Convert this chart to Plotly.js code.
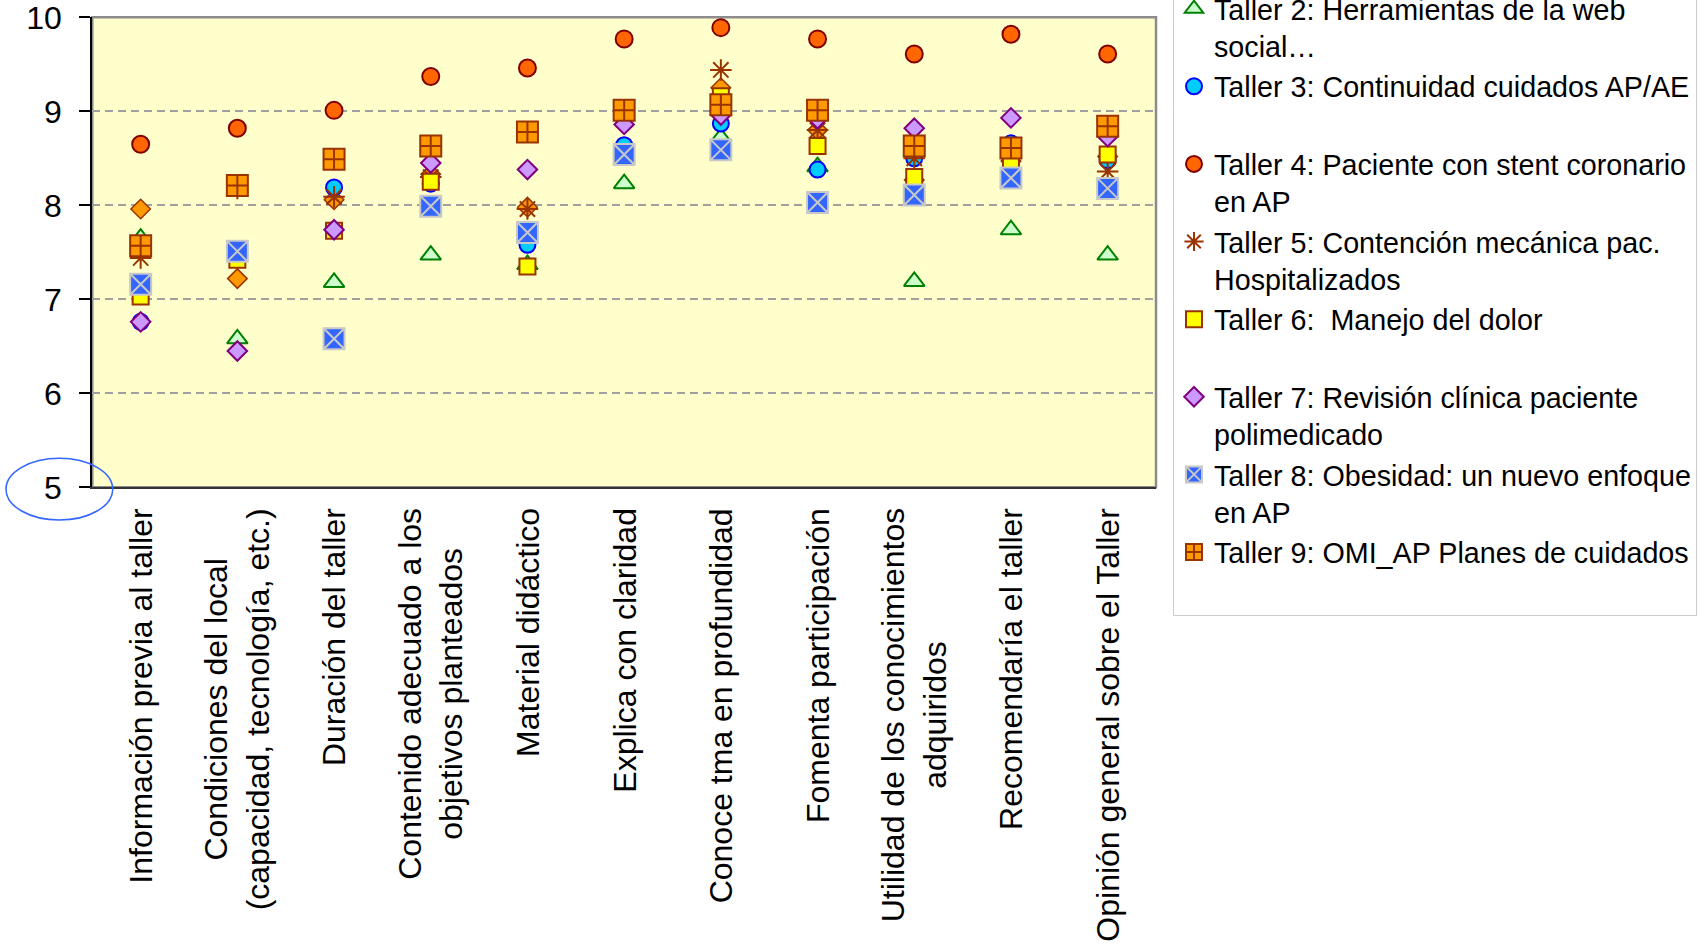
<!DOCTYPE html>
<html>
<head>
<meta charset="utf-8">
<script src="https://cdn.plot.ly/plotly-3.0.1.min.js"></script>
<style>
  html, body { margin: 0; padding: 0; background: #ffffff; }
  #chart { width: 1706px; height: 951px; }
</style>
</head>
<body>
<div id="chart"></div>
<script>
// ---- Data ----
const categories = [
  "Información previa al taller",
  "Condiciones del local (capacidad, tecnología, etc.)",
  "Duración del taller",
  "Contenido adecuado a los objetivos planteados",
  "Material didáctico",
  "Explica con claridad",
  "Conoce tma en profundidad",
  "Fomenta participación",
  "Utilidad de los conocimientos adquiridos",
  "Recomendaría el taller",
  "Opinión general sobre el Taller"
];
const tickLabels = [
  "Información previa al taller",
  "Condiciones del local<br>(capacidad, tecnología, etc.)",
  "Duración del taller",
  "Contenido adecuado a los<br>objetivos planteados",
  "Material didáctico",
  "Explica con claridad",
  "Conoce tma en profundidad",
  "Fomenta participación",
  "Utilidad de los conocimientos<br>adquiridos",
  "Recomendaría el taller",
  "Opinión general sobre el Taller"
];
const yTicks = [5, 6, 7, 8, 9, 10];

const taller1 = [7.96, 7.22, 8.06, 8.33, 7.98, 9.00, 9.25, 8.80, 8.27, 8.47, 8.52];
const taller2 = [7.65, 6.58, 7.18, 7.47, 7.37, 8.23, 8.72, 8.41, 7.19, 7.74, 7.47];
const taller3 = [6.76, 7.47, 8.19, 8.23, 7.58, 8.64, 8.87, 8.38, 8.50, 8.66, 8.48];
const taller4 = [8.65, 8.82, 9.01, 9.37, 9.46, 9.77, 9.89, 9.77, 9.61, 9.82, 9.61];
const taller5 = [7.44, 8.18, 8.09, 8.30, 7.96, 9.00, 9.44, 8.80, 8.50, 8.60, 8.36];
const taller6 = [7.03, 7.42, 7.73, 8.25, 7.35, 8.99, 9.16, 8.63, 8.30, 8.47, 8.54];
const taller7 = [6.76, 6.45, 7.74, 8.45, 8.38, 8.86, 8.96, 8.92, 8.82, 8.93, 8.73];
const taller8 = [7.16, 7.51, 6.58, 7.99, 7.71, 8.54, 8.59, 8.03, 8.11, 8.29, 8.18];
const taller9 = [7.57, 8.21, 8.49, 8.63, 8.78, 9.01, 9.07, 9.01, 8.63, 8.61, 8.84];

const seriesNames = [
  "Taller 1",
  "Taller 2: Herramientas de la web<br>social…",
  "Taller 3: Continuidad cuidados AP/AE<br>&nbsp;",
  "Taller 4: Paciente con stent coronario<br>en AP",
  "Taller 5: Contención mecánica pac.<br>Hospitalizados",
  "Taller 6:  Manejo del dolor<br>&nbsp;",
  "Taller 7: Revisión clínica paciente<br>polimedicado",
  "Taller 8: Obesidad: un nuevo enfoque<br>en AP",
  "Taller 9: OMI_AP Planes de cuidados<br>&nbsp;"
];
const seriesValues = [taller1, taller2, taller3, taller4, taller5, taller6, taller7, taller8, taller9];

// ---- Styles ----
const markerStyles = [
  { symbol: "diamond",      size: 15, color: "#FF9900", line: { color: "#993300", width: 1.5 } },
  { symbol: "triangle-up",  size: 18, color: "#CCFFCC", line: { color: "#008000", width: 2 } },
  { symbol: "circle",       size: 16, color: "#00CCFF", line: { color: "#0000FF", width: 2 } },
  { symbol: "circle",       size: 17, color: "#FF6600", line: { color: "#800000", width: 2 } },
  { symbol: "asterisk-open",size: 18, color: "#993300", line: { color: "#993300", width: 2 } },
  { symbol: "square",       size: 16, color: "#FFFF00", line: { color: "#993300", width: 2 } },
  { symbol: "diamond",      size: 15, color: "#CC99FF", line: { color: "#800080", width: 2 } },
  { symbol: "square-x",     size: 21, color: "#3366FF", line: { color: "#C8C8C8", width: 2 } },
  { symbol: "square-cross", size: 21, color: "#FF9900", line: { color: "#993300", width: 2 } }
];

const W = 1706, H = 951;
const plotL = 92.3, plotR = 1156, plotT = 17.3, plotB = 487.3;
const FONT = "'Liberation Sans', Arial, sans-serif";

const traces = seriesValues.map((vals, i) => ({
  type: "scatter",
  mode: "markers",
  x: categories,
  y: vals,
  name: seriesNames[i],
  showlegend: i !== 0,
  marker: markerStyles[i],
  hovertemplate: "%{x}: %{y}<extra>" + seriesNames[i].split("<br>")[0] + "</extra>"
}));

const annotations = categories.map((c, i) => ({
  xref: "x", yref: "paper",
  x: c, y: 1 - 506 / H,
  xanchor: "center", yanchor: "top",
  textangle: -90,
  align: "center",
  showarrow: false,
  text: tickLabels[i],
  font: { family: FONT, size: 32, color: "#000000" }
}));

const layout = {
  width: W, height: H,
  margin: { l: 0, r: 0, t: 0, b: 0, autoexpand: false },
  paper_bgcolor: "#FFFFFF",
  plot_bgcolor: "#FFFFCC",
  font: { family: FONT, color: "#000000" },
  xaxis: {
    type: "category",
    domain: [plotL / W, plotR / W],
    range: [-0.5, categories.length - 0.5],
    showticklabels: false,
    ticks: "",
    showgrid: false,
    showline: true, linecolor: "#333333", linewidth: 2,
    zeroline: false, fixedrange: true
  },
  yaxis: {
    domain: [1 - plotB / H, 1 - plotT / H],
    range: [5, 10],
    tickmode: "array",
    tickvals: yTicks,
    ticktext: yTicks.map(String),
    ticks: "outside", ticklen: 11, tickwidth: 1.5, tickcolor: "#000000",
    ticklabelstandoff: 11,
    ticklabeloverflow: "allow",
    tickfont: { family: FONT, size: 32, color: "#000000" },
    showline: true, linecolor: "#000000", linewidth: 2,
    showgrid: true, gridcolor: "#A0A0A0", gridwidth: 1.5, griddash: "8px,5px",
    zeroline: false, fixedrange: true
  },
  shapes: [
    { type: "rect", xref: "x domain", yref: "y domain", x0: 0, x1: 1, y0: 0, y1: 1,
      line: { color: "#8C8C8C", width: 2.5 }, fillcolor: "rgba(0,0,0,0)", layer: "below" },
    { type: "circle", xref: "paper", yref: "paper",
      x0: 6 / W, x1: 112.7 / W, y0: 1 - 520 / H, y1: 1 - 458.3 / H,
      line: { color: "#3366FF", width: 1.6 }, fillcolor: "rgba(0,0,0,0)" }
  ],
  annotations: annotations,
  legend: {
    x: 1173 / W, xanchor: "left",
    y: 1 - 615.5 / H, yanchor: "bottom",
    bgcolor: "#FFFFFF",
    bordercolor: "#CCCCCC", borderwidth: 1,
    font: { family: FONT, size: 28.7, color: "#000000" },
    valign: "top",
    traceorder: "normal"
  },
  showlegend: true
};

Plotly.newPlot("chart", traces, layout, { displayModeBar: false, responsive: false });
</script>
</body>
</html>
